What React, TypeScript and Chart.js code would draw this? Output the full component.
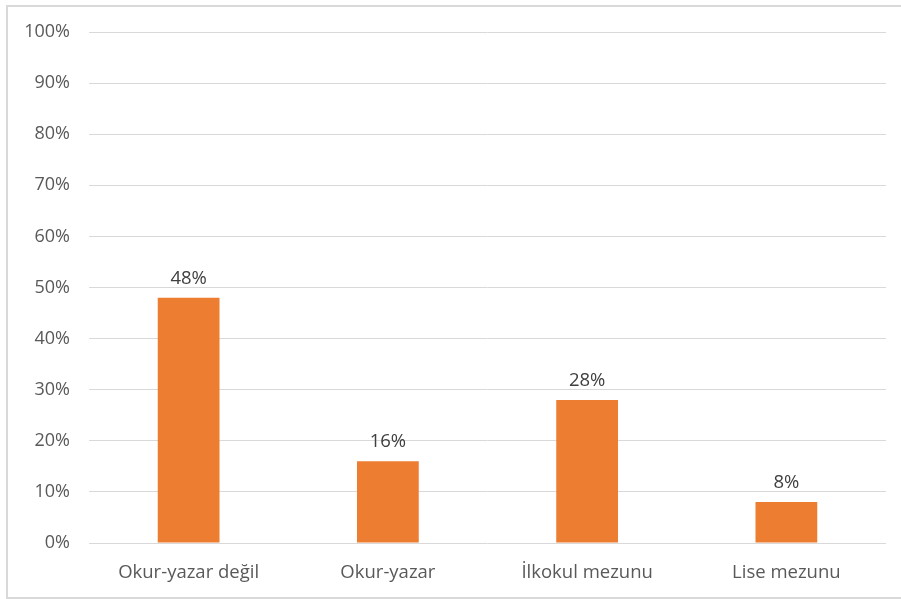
import React, { useEffect, useRef } from "react";
import { Chart, registerables } from "chart.js";

Chart.register(...registerables);

const categories = ["Okur-yazar değil", "Okur-yazar", "İlkokul mezunu", "Lise mezunu"];
const values = [48, 16, 28, 8];
const yTicks = [0, 10, 20, 30, 40, 50, 60, 70, 80, 90, 100];

const FONT = "'Open Sans', 'Liberation Sans', sans-serif";

const valueLabels = {
  id: "valueLabels",
  afterDatasetsDraw(chart: any) {
    const { ctx } = chart;
    const meta = chart.getDatasetMeta(0);
    ctx.save();
    ctx.font = `18.5px ${FONT}`;
    ctx.fillStyle = "#404040";
    ctx.textAlign = "center";
    ctx.textBaseline = "alphabetic";
    meta.data.forEach((bar: any, i: number) => {
      ctx.fillText(`${values[i]}%`, bar.x, bar.y - 14);
    });
    ctx.restore();
  },
};

export default function App() {
  const ref = useRef<HTMLCanvasElement | null>(null);

  useEffect(() => {
    document.body.style.margin = "0";
    document.body.style.overflow = "hidden";
    const chart = new Chart(ref.current!, {
      type: "bar",
      data: {
        labels: categories,
        datasets: [
          {
            data: values,
            backgroundColor: "#ED7D31",
            categoryPercentage: 1,
            barPercentage: 0.31,
          },
        ],
      },
      options: {
        animation: false,
        responsive: false,
        layout: { padding: { top: 32, right: 15, bottom: 0, left: 0 } },
        plugins: { legend: { display: false }, tooltip: { enabled: false } },
        scales: {
          x: {
            grid: { display: false, drawTicks: false },
            border: { display: false },
            ticks: { color: "#595959", font: { family: FONT, size: 18.5 }, padding: 19, maxRotation: 0 },
            afterFit: (s: any) => {
              s.height = 56;
            },
          },
          y: {
            min: 0,
            max: 100,
            afterBuildTicks: (s: any) => {
              s.ticks = yTicks.map((v) => ({ value: v }));
            },
            grid: { color: "#d9d9d9", lineWidth: 1, drawTicks: false },
            border: { display: false },
            ticks: {
              color: "#595959",
              font: { family: FONT, size: 18 },
              padding: 19,
              callback: (v: any) => `${v}%`,
            },
            afterFit: (s: any) => {
              s.width = 89;
            },
          },
        },
      },
      plugins: [valueLabels],
    });
    return () => chart.destroy();
  }, []);

  return (
    <div style={{ position: "relative", width: 901, height: 599, background: "#fff", overflow: "hidden" }}>
      <canvas ref={ref} width={901} height={599} style={{ position: "absolute", left: 0, top: 0 }} />
      <div
        style={{
          position: "absolute",
          left: 6,
          top: 5,
          width: 1000,
          height: 590,
          border: "2px solid #d9d9d9",
          pointerEvents: "none",
        }}
      />
    </div>
  );
}
